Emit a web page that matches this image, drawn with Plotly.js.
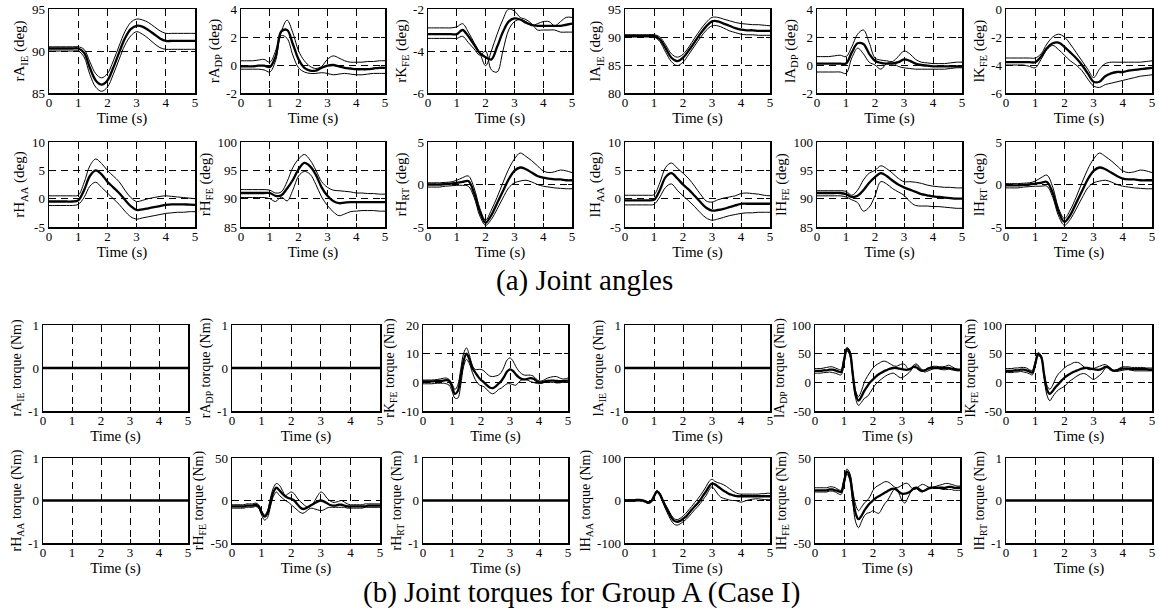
<!DOCTYPE html>
<html><head><meta charset="utf-8">
<script src="https://cdn.plot.ly/plotly-3.0.1.min.js"></script>
<style>html,body{margin:0;padding:0;background:#fff}</style>
</head><body><div id="chart" style="width:1159px;height:611px"></div>
<script>
// ---------- time bases ----------
const TA = [0,0.2,0.4,0.6,0.8,1.0,1.2,1.4,1.6,1.8,2.0,2.2,2.4,2.6,2.8,3.0,3.2,3.4,3.6,3.8,4.0,4.2,4.4,4.6,4.8,5.0];
const TT = [0,0.1,0.2,0.3,0.4,0.5,0.6,0.7,0.8,0.9,1.0,1.1,1.2,1.3,1.4,1.5,1.6,1.7,1.8,1.9,2.0,2.1,2.2,2.3,2.4,2.5,2.6,2.7,2.8,2.9,3.0,3.1,3.2,3.3,3.4,3.5,3.6,3.7,3.8,3.9,4.0,4.1,4.2,4.3,4.4,4.5,4.6,4.7,4.8,4.9,5.0];
const TZ = [0,5];
const ZERO = [0,0];
const TIME_TICKS = [0,1,2,3,4,5];

// ---------- (a) joint angles (mean, +sd, -sd) ----------
const rAIE_m = [90.3,90.3,90.3,90.3,90.3,90.3,89.8,88.0,86.5,86.0,86.5,88.0,89.8,91.5,92.6,93.0,92.9,92.5,92.0,91.5,91.2,91.2,91.2,91.2,91.2,91.2];
const rAIE_h = [90.5,90.5,90.5,90.5,90.5,90.5,90.2,88.7,87.3,86.8,87.3,88.8,90.6,92.3,93.4,93.8,93.7,93.4,92.9,92.4,92.1,92.1,92.1,92.1,92.1,92.1];
const rAIE_l = [90.0,90.0,90.0,90.0,90.0,90.0,89.3,87.2,85.7,85.2,85.7,87.2,89.0,90.7,91.8,92.3,92.0,91.5,90.9,90.4,90.2,90.2,90.2,90.2,90.2,90.2];

const rADP_m = [-0.1,-0.1,-0.1,-0.05,-0.05,-0.15,0.6,2.4,2.5,1.5,0.4,-0.2,-0.4,-0.4,-0.2,-0.05,0.0,-0.1,-0.2,-0.25,-0.3,-0.3,-0.3,-0.25,-0.2,-0.2];
const rADP_h = [0.3,0.3,0.3,0.35,0.4,0.2,1.0,2.4,3.2,2.3,1.0,0.3,-0.1,-0.25,-0.1,0.4,0.65,0.5,0.3,0.2,0.2,0.2,0.25,0.25,0.3,0.3];
const rADP_l = [-0.3,-0.3,-0.3,-0.3,-0.35,-0.5,0.3,2.1,1.9,0.7,-0.2,-0.5,-0.6,-0.6,-0.55,-0.6,-0.7,-0.65,-0.6,-0.65,-0.7,-0.7,-0.65,-0.6,-0.6,-0.6];

const rKFE_m = [-3.2,-3.2,-3.2,-3.2,-3.2,-3.2,-3.0,-3.3,-3.7,-4.1,-4.3,-4.4,-3.8,-3.1,-2.6,-2.45,-2.5,-2.65,-2.75,-2.8,-2.8,-2.8,-2.8,-2.8,-2.75,-2.7];
const rKFE_h = [-2.9,-2.9,-2.9,-2.9,-2.9,-2.85,-2.7,-3.1,-3.6,-4.1,-4.7,-4.0,-3.2,-2.5,-2.0,-2.1,-2.4,-2.5,-2.7,-3.0,-3.0,-3.0,-3.0,-3.1,-3.1,-3.1];
const rKFE_l = [-3.4,-3.4,-3.4,-3.4,-3.4,-3.4,-3.3,-3.6,-3.9,-4.2,-4.0,-4.9,-5.0,-4.0,-3.0,-2.6,-2.5,-2.6,-2.8,-2.7,-2.6,-2.6,-2.8,-2.6,-2.4,-2.4];

const lAIE_m = [90.2,90.2,90.2,90.2,90.2,90.2,89.6,88.0,86.3,85.7,86.3,87.6,89.1,90.6,91.9,92.8,92.8,92.4,92.0,91.6,91.3,91.2,91.2,91.1,91.1,91.1];
const lAIE_h = [90.4,90.4,90.4,90.4,90.4,90.4,90.0,88.6,87.0,86.4,86.9,88.2,89.8,91.3,92.6,93.5,93.5,93.2,92.9,92.6,92.4,92.3,92.2,92.2,92.1,92.0];
const lAIE_l = [90.0,90.0,90.0,90.0,90.0,90.0,89.2,87.3,85.6,84.9,85.5,86.9,88.4,89.9,91.2,92.0,92.0,91.6,91.1,90.8,90.5,90.4,90.4,90.3,90.3,90.3];

const lADP_m = [0.1,0.1,0.1,0.1,0.1,0.1,0.9,1.55,1.5,0.8,0.3,0.15,0.1,0.1,0.2,0.4,0.3,0.1,0.0,-0.05,-0.1,-0.1,-0.1,-0.1,-0.1,-0.1];
const lADP_h = [0.6,0.6,0.6,0.65,0.7,0.6,1.3,2.2,2.5,1.6,0.5,0.35,0.3,0.25,0.6,1.0,0.8,0.4,0.2,0.15,0.1,0.1,0.1,0.15,0.2,0.2];
const lADP_l = [-0.5,-0.5,-0.5,-0.5,-0.5,-0.6,0.5,1.2,0.8,0.2,0.0,-0.3,0.1,0.2,-0.1,-0.2,-0.25,-0.3,-0.3,-0.3,-0.3,-0.3,-0.3,-0.25,-0.2,-0.2];

const lKFE_m = [-3.8,-3.8,-3.8,-3.8,-3.8,-3.8,-3.4,-2.8,-2.45,-2.4,-2.7,-3.1,-3.5,-4.0,-4.6,-5.2,-5.2,-4.8,-4.6,-4.5,-4.5,-4.4,-4.35,-4.3,-4.25,-4.2];
const lKFE_h = [-3.5,-3.5,-3.5,-3.5,-3.5,-3.5,-3.2,-2.5,-2.0,-1.8,-2.0,-2.5,-3.1,-3.7,-4.3,-4.9,-4.3,-3.9,-3.8,-3.8,-3.8,-3.8,-3.8,-3.8,-3.75,-3.7];
const lKFE_l = [-4.0,-4.0,-4.0,-4.0,-4.1,-4.2,-3.6,-2.9,-2.6,-2.9,-3.3,-3.7,-4.0,-4.4,-5.0,-5.5,-5.6,-5.4,-5.3,-5.2,-5.1,-5.0,-4.9,-4.8,-4.75,-4.7];

const rHAA_m = [-0.5,-0.5,-0.5,-0.5,-0.5,-0.3,1.5,4.0,5.0,4.3,3.0,2.0,1.0,-0.2,-1.3,-2.0,-1.9,-1.7,-1.5,-1.3,-1.1,-1.0,-1.0,-1.0,-1.05,-1.1];
const rHAA_h = [0.5,0.5,0.5,0.5,0.5,0.6,2.8,5.8,7.0,6.2,5.0,4.0,3.0,1.5,0.2,-0.5,-0.3,0.0,0.2,0.4,0.5,0.4,0.3,0.2,0.1,0.0];
const rHAA_l = [-1.2,-1.2,-1.2,-1.2,-1.2,-1.0,0.2,2.2,2.9,2.0,1.0,0.0,-1.0,-2.2,-3.2,-3.6,-3.4,-3.2,-3.0,-2.8,-2.6,-2.5,-2.4,-2.4,-2.3,-2.3];

const rHFE_m = [91.0,91.0,91.0,91.0,91.0,91.0,90.5,90.6,91.8,93.3,95.2,96.3,95.7,94.2,92.0,90.5,89.6,89.2,89.3,89.4,89.4,89.4,89.4,89.4,89.4,89.4];
const rHFE_h = [91.6,91.6,91.6,91.6,91.6,91.5,91.0,91.2,93.0,95.5,97.0,97.8,96.8,95.0,93.0,92.0,91.5,91.4,91.3,91.2,91.0,91.0,90.9,90.9,90.8,90.8];
const rHFE_l = [90.2,90.2,90.2,90.2,90.2,90.0,89.5,90.3,89.6,91.5,94.0,94.8,94.3,92.5,90.3,88.8,87.7,87.0,87.3,87.7,87.8,87.9,87.9,87.9,87.8,87.8];

const rHRT_m = [0.0,0.0,0.0,0.05,0.1,0.2,0.3,0.4,-1.0,-3.2,-4.5,-3.6,-2.2,-0.8,0.6,1.6,2.0,1.8,1.4,1.0,0.8,0.7,0.6,0.6,0.5,0.5];
const rHRT_h = [0.2,0.2,0.2,0.25,0.3,0.5,0.8,1.0,-0.4,-2.8,-4.2,-3.0,-1.5,0.2,1.8,3.0,3.7,3.3,2.8,2.2,1.6,1.4,1.5,1.7,1.6,1.4];
const rHRT_l = [-0.3,-0.3,-0.3,-0.2,-0.15,-0.1,-0.1,-0.2,-1.5,-3.7,-4.8,-4.1,-2.9,-1.6,-0.4,0.2,0.4,0.5,0.3,0.0,-0.2,-0.3,-0.4,-0.45,-0.5,-0.5];

const lHAA_m = [-0.3,-0.3,-0.3,-0.3,-0.3,-0.2,1.5,3.8,4.5,3.6,2.5,1.6,0.5,-0.6,-1.6,-2.1,-2.0,-1.8,-1.5,-1.2,-0.9,-0.9,-0.9,-0.9,-0.9,-0.9];
const lHAA_h = [0.6,0.6,0.6,0.6,0.6,0.7,2.8,5.5,6.3,5.4,4.5,3.5,2.2,0.8,-0.4,-0.6,-0.2,0.1,0.3,0.5,0.9,1.0,0.9,0.8,0.6,0.5];
const lHAA_l = [-1.1,-1.1,-1.1,-1.1,-1.1,-1.0,0.3,2.0,2.6,1.5,0.5,-0.4,-1.4,-2.5,-3.4,-3.8,-3.6,-3.3,-3.0,-2.8,-2.6,-2.5,-2.5,-2.4,-2.4,-2.4];

const lHFE_m = [91.0,91.0,91.0,91.0,91.0,90.8,90.3,90.5,91.5,92.8,93.8,94.5,94.0,93.2,92.5,92.0,91.6,91.2,90.8,90.6,90.4,90.3,90.2,90.1,90.0,90.0];
const lHFE_h = [91.4,91.4,91.4,91.4,91.4,91.3,90.6,91.5,93.3,94.5,95.0,95.8,95.3,94.5,93.6,93.0,93.0,92.9,92.7,92.4,92.2,92.1,92.0,92.0,91.9,91.9];
const lHFE_l = [90.5,90.5,90.5,90.5,90.5,90.3,89.8,89.3,87.8,88.5,90.5,93.0,92.6,91.8,91.2,90.6,89.5,88.8,88.7,88.7,88.6,88.6,88.5,88.4,88.3,88.3];

const lHRT_m = [-0.1,-0.1,-0.1,-0.05,0.0,0.1,0.2,0.3,-1.0,-3.2,-4.4,-3.6,-2.2,-0.8,0.6,1.6,2.0,1.8,1.4,1.0,0.7,0.6,0.6,0.5,0.5,0.5];
const lHRT_h = [0.1,0.1,0.1,0.15,0.2,0.4,0.8,1.1,-0.3,-2.8,-4.0,-3.0,-1.5,0.2,1.8,3.0,3.7,3.3,2.8,2.2,1.6,1.4,1.5,1.7,1.6,1.4];
const lHRT_l = [-0.4,-0.4,-0.4,-0.3,-0.25,-0.2,-0.2,-0.2,-1.5,-3.7,-4.8,-4.1,-2.9,-1.6,-0.4,0.2,0.4,0.5,0.3,0.0,-0.2,-0.3,-0.4,-0.45,-0.5,-0.5];

// ---------- (b) joint torques (mean, +sd, -sd) ----------
const rKFEt_m = [0.3,0.3,0.3,0.3,0.4,0.5,0.5,0.6,0.8,0.5,-1.5,-4.0,-3.0,2.0,7.5,10.0,8.0,5.0,3.5,2.0,0.8,0.0,-1.0,-1.8,-2.0,-1.5,-0.5,0.5,2.0,3.8,4.5,4.0,2.8,1.8,1.2,1.0,1.2,1.5,1.3,0.6,0.0,0.0,0.3,0.5,0.6,0.6,0.5,0.4,0.4,0.5,0.6];
const rKFEt_h = [0.8,0.8,0.8,0.8,0.9,1.0,1.2,1.4,1.5,1.0,-0.5,-2.5,-1.0,4.5,10.0,12.0,9.5,6.0,4.5,4.5,4.5,4.0,3.0,2.2,2.0,2.2,2.5,3.5,5.5,7.8,8.5,7.5,5.5,4.0,3.0,2.5,2.5,2.5,2.2,1.2,0.5,0.5,1.0,1.5,1.8,2.0,2.0,1.6,1.2,1.2,1.5];
const rKFEt_l = [-0.5,-0.5,-0.5,-0.5,-0.4,-0.3,-0.3,-0.3,-0.5,-1.0,-3.0,-5.5,-5.5,-1.0,5.5,8.0,6.5,3.5,1.0,-0.5,-1.2,-1.5,-2.5,-3.5,-4.0,-3.5,-2.5,-2.0,-1.2,-0.5,-0.5,-0.8,-1.0,0.0,0.8,1.0,0.8,0.3,0.0,-0.3,-0.5,-0.3,0.0,0.0,0.0,0.0,-0.2,-0.2,0.0,0.0,0.0];

const lADPt_m = [20,20,20,21,21,22,22,21,19,18,38,58,52,15,-20,-32,-25,-15,-7,0,5,10,14,17,20,22,24,25,25,24,23,22,22,24,27,26,22,20,21,24,25,25,25,25,25,25,25,24,23,22,22];
const lADPt_h = [24,24,24,25,26,27,27,25,23,22,42,61,55,20,-15,-25,-15,0,10,18,25,30,33,36,37,35,32,29,28,30,32,31,24,22,30,32,27,22,22,25,27,28,28,27,27,28,30,28,25,23,22];
const lADPt_l = [16,16,16,17,17,18,17,16,14,13,33,55,47,10,-28,-40,-35,-28,-25,-18,-10,-3,2,6,10,13,15,16,13,9,8,11,15,20,27,30,25,20,18,20,22,24,25,23,22,22,23,22,21,20,20];

const lKFEt_m = [20,20,20,21,21,22,22,21,19,17,32,49,45,15,-12,-20,-15,-8,-3,3,8,12,15,18,20,22,24,25,25,24,23,22,22,24,27,26,22,20,21,23,24,24,24,23,23,23,23,23,23,22,22];
const lKFEt_h = [24,24,24,25,25,26,26,25,22,21,36,52,47,18,-5,-12,-5,7,15,20,25,29,31,34,35,34,30,26,23,22,24,26,28,30,31,28,23,21,22,25,27,27,27,26,26,26,26,26,25,25,25];
const lKFEt_l = [17,17,17,18,18,19,18,17,15,13,28,46,42,10,-22,-32,-25,-18,-13,-10,-7,-2,3,6,10,13,15,15,12,8,5,8,12,17,25,28,24,20,19,20,21,22,22,21,20,20,20,20,20,20,20];

const rHFEt_m = [-7,-7,-7,-7,-7,-6,-6,-6,-5,-7,-14,-19,-15,-2,10,15,12,8,5,3,2,0,-4,-8,-10,-9,-7,-5,-3,-1,0,-1,-3,-5,-6,-6,-5,-5,-6,-7,-7,-7,-7,-7,-7,-7,-6,-6,-6,-6,-6];
const rHFEt_h = [-5,-5,-5,-5,-5,-4,-4,-4,-3,-5,-12,-17,-12,3,15,20,18,12,6,8,10,8,3,-1,-4,-7,-8,-5,0,6,10,8,3,0,-2,-2,-1,0,-2,-4,-5,-5,-5,-5,-5,-4,-4,-4,-4,-4,-4];
const rHFEt_l = [-9,-9,-9,-9,-9,-8,-8,-8,-7,-9,-17,-23,-20,-7,5,10,6,3,0,-2,-5,-8,-11,-14,-15,-13,-10,-9,-10,-11,-12,-11,-9,-8,-8,-8,-8,-8,-8,-9,-9,-9,-9,-9,-9,-8,-8,-8,-8,-8,-8];

const lHAAt_m = [0,0,0,0,1,1,0,-2,-5,-2,10,21,15,0,-15,-28,-40,-48,-50,-48,-43,-38,-30,-22,-14,-7,2,12,22,33,40,38,33,28,23,19,15,13,11,10,10,10,10,10,10,10,10,10,10,10,10];
const lHAAt_h = [2,2,2,2,3,3,2,0,-3,0,12,24,18,3,-10,-22,-35,-43,-45,-42,-37,-30,-22,-14,-5,3,12,22,33,45,50,45,42,40,37,33,28,23,19,16,15,15,15,15,15,15,15,16,16,17,17];
const lHAAt_l = [-2,-2,-2,-2,-1,-1,-2,-4,-7,-4,8,19,12,-3,-20,-35,-48,-56,-58,-55,-50,-45,-38,-30,-22,-15,-7,3,12,25,32,25,15,8,5,3,1,0,0,-2,-4,-2,0,2,3,4,4,3,2,2,2];

const lHFEt_m = [12,12,12,12,12,13,13,12,11,10,22,34,28,5,-15,-22,-18,-12,-7,-3,0,3,5,7,9,11,13,14,13,10,8,8,9,11,14,15,13,11,12,14,15,15,15,15,15,15,16,16,15,15,15];
const lHFEt_h = [15,15,15,15,15,16,16,15,13,12,25,37,32,12,-5,-12,-8,-3,0,5,12,16,18,20,22,22,20,17,15,16,18,20,20,16,13,14,17,19,18,16,15,16,17,18,19,20,20,19,18,17,17];
const lHFEt_l = [10,10,10,10,10,11,11,10,8,7,18,31,24,-2,-25,-32,-25,-18,-15,-14,-12,-14,-15,-10,-4,0,6,12,15,8,0,-3,3,10,15,14,11,10,12,14,15,15,15,14,13,13,13,13,12,12,12];

// ---------- y tick values ----------
const yt_rAIE=[85,90,95], yt_rADP=[-2,0,2,4], yt_rKFE=[-6,-4,-2], yt_lAIE=[80,85,90,95], yt_lADP=[-2,0,2,4], yt_lKFE=[-6,-4,-2,0];
const yt_rHAA=[-5,0,5,10], yt_rHFE=[85,90,95,100], yt_rHRT=[-5,0,5], yt_lHAA=[-5,0,5,10], yt_lHFE=[85,90,95,100], yt_lHRT=[-5,0,5];
const yt_unit=[-1,0,1], yt_rKFEt=[-10,0,10,20], yt_lADPt=[-50,0,50,100], yt_lKFEt=[-50,0,50,100], yt_rHFEt=[-50,0,50], yt_lHAAt=[-100,0,100], yt_lHFEt=[-50,0,50];

const ang = s => s + ' (deg)';
const trq = s => s + ' torque (Nm)';

const panels = [
  {x:TA,m:rAIE_m,h:rAIE_h,l:rAIE_l,yt:yt_rAIE,lab:ang('rA<sub>IE</sub>'),g:'a',r:0,c:0},
  {x:TA,m:rADP_m,h:rADP_h,l:rADP_l,yt:yt_rADP,lab:ang('rA<sub>DP</sub>'),g:'a',r:0,c:1},
  {x:TA,m:rKFE_m,h:rKFE_h,l:rKFE_l,yt:yt_rKFE,lab:ang('rK<sub>FE</sub>'),g:'a',r:0,c:2},
  {x:TA,m:lAIE_m,h:lAIE_h,l:lAIE_l,yt:yt_lAIE,lab:ang('lA<sub>IE</sub>'),g:'a',r:0,c:3},
  {x:TA,m:lADP_m,h:lADP_h,l:lADP_l,yt:yt_lADP,lab:ang('lA<sub>DP</sub>'),g:'a',r:0,c:4},
  {x:TA,m:lKFE_m,h:lKFE_h,l:lKFE_l,yt:yt_lKFE,lab:ang('lK<sub>FE</sub>'),g:'a',r:0,c:5},
  {x:TA,m:rHAA_m,h:rHAA_h,l:rHAA_l,yt:yt_rHAA,lab:ang('rH<sub>AA</sub>'),g:'a',r:1,c:0},
  {x:TA,m:rHFE_m,h:rHFE_h,l:rHFE_l,yt:yt_rHFE,lab:ang('rH<sub>FE</sub>'),g:'a',r:1,c:1},
  {x:TA,m:rHRT_m,h:rHRT_h,l:rHRT_l,yt:yt_rHRT,lab:ang('rH<sub>RT</sub>'),g:'a',r:1,c:2},
  {x:TA,m:lHAA_m,h:lHAA_h,l:lHAA_l,yt:yt_lHAA,lab:ang('lH<sub>AA</sub>'),g:'a',r:1,c:3},
  {x:TA,m:lHFE_m,h:lHFE_h,l:lHFE_l,yt:yt_lHFE,lab:ang('lH<sub>FE</sub>'),g:'a',r:1,c:4},
  {x:TA,m:lHRT_m,h:lHRT_h,l:lHRT_l,yt:yt_lHRT,lab:ang('lH<sub>RT</sub>'),g:'a',r:1,c:5},
  {x:TZ,m:ZERO,h:ZERO,l:ZERO,yt:yt_unit,lab:trq('rA<sub>IE</sub>'),g:'b',r:0,c:0},
  {x:TZ,m:ZERO,h:ZERO,l:ZERO,yt:yt_unit,lab:trq('rA<sub>DP</sub>'),g:'b',r:0,c:1},
  {x:TT,m:rKFEt_m,h:rKFEt_h,l:rKFEt_l,yt:yt_rKFEt,lab:trq('rK<sub>FE</sub>'),g:'b',r:0,c:2},
  {x:TZ,m:ZERO,h:ZERO,l:ZERO,yt:yt_unit,lab:trq('lA<sub>IE</sub>'),g:'b',r:0,c:3},
  {x:TT,m:lADPt_m,h:lADPt_h,l:lADPt_l,yt:yt_lADPt,lab:trq('lA<sub>DP</sub>'),g:'b',r:0,c:4},
  {x:TT,m:lKFEt_m,h:lKFEt_h,l:lKFEt_l,yt:yt_lKFEt,lab:trq('lK<sub>FE</sub>'),g:'b',r:0,c:5},
  {x:TZ,m:ZERO,h:ZERO,l:ZERO,yt:yt_unit,lab:trq('rH<sub>AA</sub>'),g:'b',r:1,c:0},
  {x:TT,m:rHFEt_m,h:rHFEt_h,l:rHFEt_l,yt:yt_rHFEt,lab:trq('rH<sub>FE</sub>'),g:'b',r:1,c:1},
  {x:TZ,m:ZERO,h:ZERO,l:ZERO,yt:yt_unit,lab:trq('rH<sub>RT</sub>'),g:'b',r:1,c:2},
  {x:TT,m:lHAAt_m,h:lHAAt_h,l:lHAAt_l,yt:yt_lHAAt,lab:trq('lH<sub>AA</sub>'),g:'b',r:1,c:3},
  {x:TT,m:lHFEt_m,h:lHFEt_h,l:lHFEt_l,yt:yt_lHFEt,lab:trq('lH<sub>FE</sub>'),g:'b',r:1,c:4},
  {x:TZ,m:ZERO,h:ZERO,l:ZERO,yt:yt_unit,lab:trq('lH<sub>RT</sub>'),g:'b',r:1,c:5}
];

// ---------- layout geometry (pixels) ----------
const W = 1159, H = 611;
const COLS = {a:[[49,195],[241,385],[428,572],[625,770],[817,962],[1006,1152]],
              b:[[43,188],[232,380],[423,568],[625,770],[815,960],[1006,1152]]};
const ROWS = {a:[[9,93],[142,227]], b:[[325,411],[458,543]]};
const FONT = '"Times New Roman", "Liberation Serif", Times, serif';

const data = [];
const layout = {
  width:W, height:H, margin:{l:0,r:0,t:0,b:0},
  paper_bgcolor:'#fff', plot_bgcolor:'#fff', showlegend:false,
  font:{family:FONT, size:13, color:'#000'},
  annotations:[
    {text:'(a) Joint angles', x:584/W, y:1-280/H, xref:'paper', yref:'paper', showarrow:false, xanchor:'center', yanchor:'middle', font:{family:FONT,size:29,color:'#000'}},
    {text:'(b) Joint torques for Group A (Case I)', x:581/W, y:1-592/H, xref:'paper', yref:'paper', showarrow:false, xanchor:'center', yanchor:'middle', font:{family:FONT,size:29,color:'#000'}}
  ]
};

panels.forEach((p,i)=>{
  const k = i+1, sx = k===1?'':String(k);
  const xs = 'x'+sx, ys = 'y'+sx;
  const col = COLS[p.g][p.c], row = ROWS[p.g][p.r];
  const axCommon = {
    ticks:'inside', ticklen:4, tickwidth:1, tickcolor:'#000',
    showline:true, mirror:'ticks', linecolor:'#000', linewidth:1.5,
    showgrid:true, gridcolor:'#000', gridwidth:1, griddash:'7px,5px',
    zeroline:false, fixedrange:true, tickfont:{family:FONT,size:13,color:'#000'}
  };
  layout['xaxis'+sx] = Object.assign({}, axCommon, {
    domain:[col[0]/W, col[1]/W], anchor:ys, range:[0,5],
    tickmode:'array', tickvals:TIME_TICKS, ticktext:TIME_TICKS.map(String),
    ticklabelstandoff:-3,
    title:{text:'Time (s)', font:{family:FONT,size:15,color:'#000'}, standoff:0}
  });
  layout['yaxis'+sx] = Object.assign({}, axCommon, {
    domain:[1-row[1]/H, 1-row[0]/H], anchor:xs, range:[p.yt[0], p.yt[p.yt.length-1]],
    tickmode:'array', tickvals:p.yt, ticktext:p.yt.map(String),
    title:{text:p.lab, font:{family:FONT,size:p.g==='a'?15:14,color:'#000'}, standoff:3}
  });
  const base = {type:'scatter', mode:'lines', x:p.x, xaxis:xs, yaxis:ys, hoverinfo:'skip'};
  data.push(Object.assign({}, base, {y:p.l, line:{color:'#000', width:1, shape:'spline', smoothing:1}}));
  data.push(Object.assign({}, base, {y:p.h, line:{color:'#000', width:1, shape:'spline', smoothing:1}}));
  data.push(Object.assign({}, base, {y:p.m, line:{color:'#000', width:2.3, shape:'spline', smoothing:1}}));
});

Plotly.newPlot('chart', data, layout, {staticPlot:true, displayModeBar:false});
</script></body></html>
